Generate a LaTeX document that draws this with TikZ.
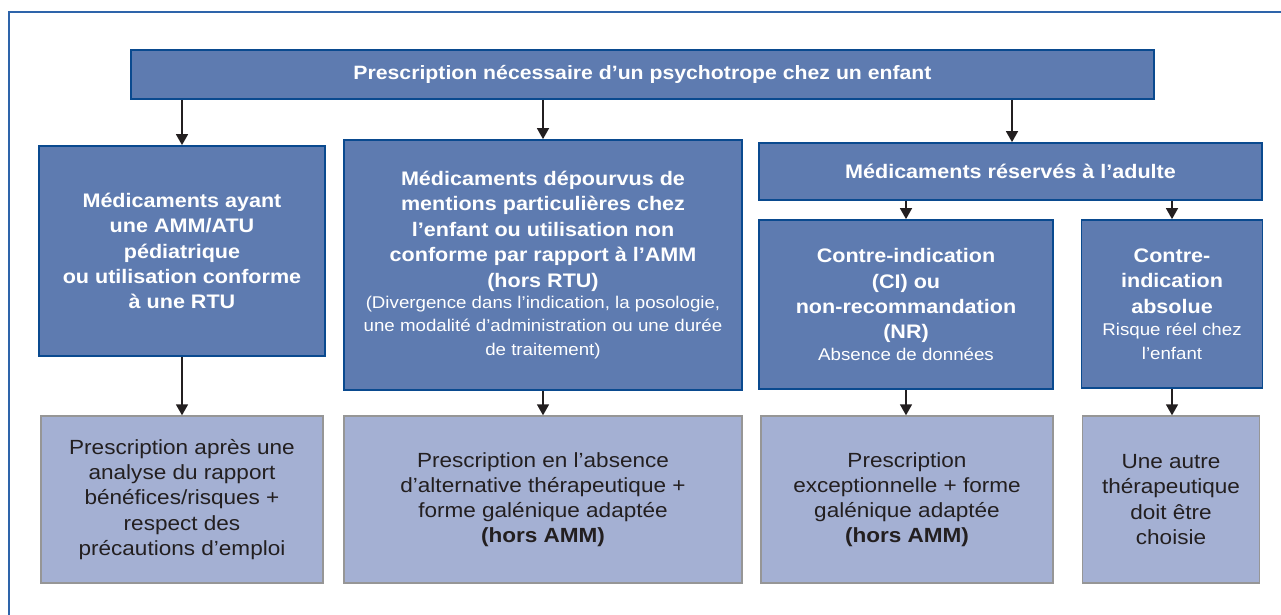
\documentclass[tikz,border=0pt]{standalone}
\usepackage{fontspec}
\setmainfont{Liberation Sans}[FakeStretch=1.1]
\usetikzlibrary{positioning,arrows.meta}

\definecolor{boxblue}{RGB}{94,123,176}
\definecolor{edgeblue}{RGB}{10,74,143}
\definecolor{boxlight}{RGB}{164,176,211}
\definecolor{edgegray}{RGB}{150,150,150}
\definecolor{framecol}{RGB}{46,100,170}
\definecolor{inkdark}{RGB}{35,31,32}

\tikzset{
  darkbox/.style={draw=edgeblue, fill=boxblue, line width=1.8pt, text=white,
    font=\bfseries\fontsize{19.6}{25.4}\selectfont, align=center, inner sep=0pt},
  lightbox/.style={draw=edgegray, fill=boxlight, line width=1.4pt, text=inkdark,
    font=\fontsize{20.5}{25.2}\selectfont, align=center, inner sep=0pt},
  arr/.style={-{Triangle[length=11pt,width=12pt]}, line width=1.6pt, inkdark}
}
\newcommand{\subline}{\mdseries\fontsize{17}{22.5}\selectfont}

\begin{document}
\begin{tikzpicture}[x=1pt,y=-1pt]
\useasboundingbox (0,0) rectangle (1281,614);
% Frame
\draw[framecol, line width=1.2pt] (1290,12) -- (9,12) -- (9,630);
% Nodes
\node[darkbox, font=\bfseries\fontsize{19.3}{24}\selectfont, minimum width=1023pt, minimum height=49pt] (top) at (642.5,74.5)
  {Prescription nécessaire d’un psychotrope chez un enfant};
\node[darkbox, minimum width=286pt, minimum height=210pt] (ammped) at (182,251)
  {Médicaments ayant\\une AMM/ATU\\pédiatrique\\ou utilisation conforme\\à une RTU};
\node[darkbox, minimum width=398pt, minimum height=250pt] (horsrtu) at (543,265)
  {Médicaments dépourvus de\\mentions particulières chez\\l’enfant ou utilisation non\\conforme par rapport à l’AMM\\(hors RTU)\\[-4pt]
   \subline (Divergence dans l’indication, la posologie,\\[-2pt]\subline une modalité d’administration ou une durée\\[-2pt]\subline de traitement)};
\node[darkbox, minimum width=503pt, minimum height=57pt] (adulte) at (1010.5,171.5)
  {Médicaments réservés à l’adulte};
\node[darkbox, minimum width=294pt, minimum height=169pt] (cinr) at (906,304.5)
  {Contre-indication\\(CI) ou\\non-recommandation\\(NR)\\[-4pt]\subline Absence de données};
\node[darkbox, minimum width=181pt, minimum height=168pt] (ciabs) at (1172,304)
  {Contre-\\indication\\absolue\\[-3pt]\subline Risque réel chez\\[-2pt]\subline l’enfant};
\node[lightbox, minimum width=282pt, minimum height=167pt] (presc) at (182,499.5)
  {Prescription après une\\analyse du rapport\\bénéfices/risques +\\respect des\\précautions d’emploi};
\node[lightbox, minimum width=398pt, minimum height=167pt] (absalt) at (543,499.5)
  {Prescription en l’absence\\d’alternative thérapeutique +\\forme galénique adaptée\\\textbf{(hors AMM)}};
\node[lightbox, minimum width=292pt, minimum height=167pt] (except) at (907,499.5)
  {Prescription\\exceptionnelle + forme\\galénique adaptée\\\textbf{(hors AMM)}};
\node[lightbox, minimum width=177pt, minimum height=167pt] (autre) at (1171,499.5)
  {Une autre\\thérapeutique\\doit être\\choisie};
\coordinate (split) at (1012,0);
% Arrows
\draw[arr] (ammped.north |- top.south) -- (ammped.north);
\draw[arr] (horsrtu.north |- top.south) -- (horsrtu.north);
\draw[arr] (split |- top.south) -- (split |- adulte.north);
\draw[arr] (cinr.north |- adulte.south) -- (cinr.north);
\draw[arr] (ciabs.north |- adulte.south) -- (ciabs.north);
\draw[arr] (ammped) -- (presc);
\draw[arr] (horsrtu) -- (absalt);
\draw[arr] (cinr.south) -- (except.north -| cinr.south);
\draw[arr] (ciabs.south) -- (autre.north -| ciabs.south);
\end{tikzpicture}
\end{document}
